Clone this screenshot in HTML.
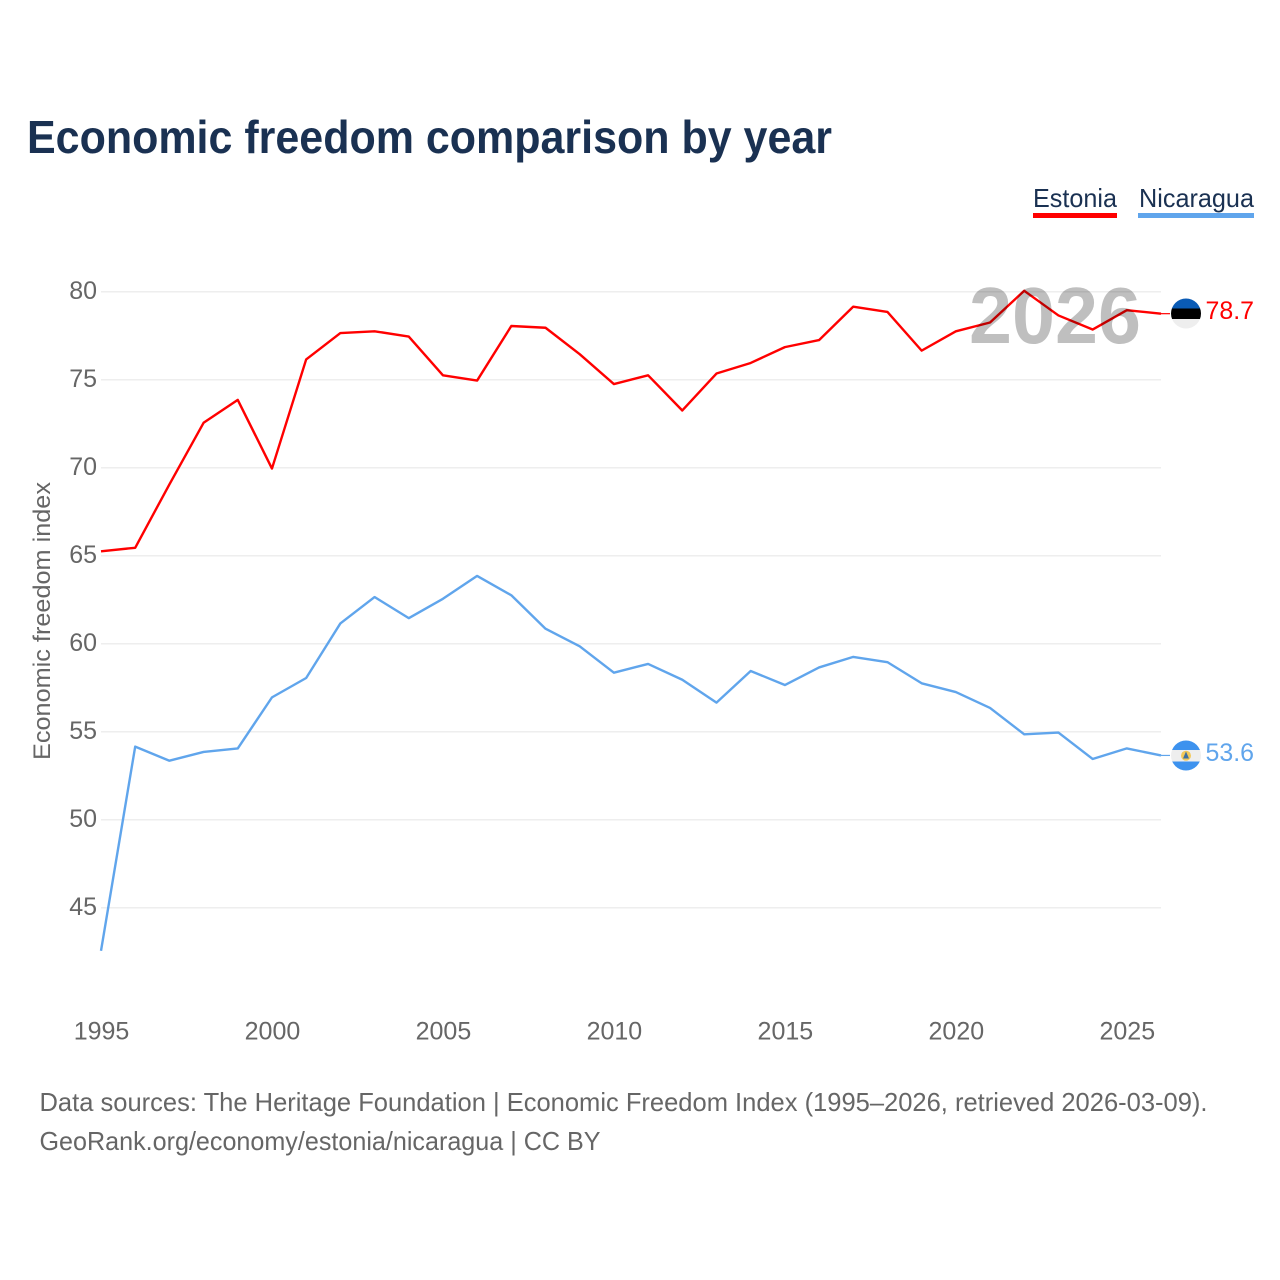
<!DOCTYPE html>
<html lang="en">
<head>
<meta charset="utf-8">
<title>Economic freedom comparison by year</title>
<style>
html,body{margin:0;padding:0;background:#fff}
svg{display:block;font-family:"Liberation Sans",sans-serif}
</style>
</head>
<body>
<svg id="chart" width="1280" height="1280" viewBox="0 0 1280 1280" xmlns="http://www.w3.org/2000/svg">
  <defs>
    <clipPath id="clip-ee"><circle cx="1186" cy="313.5" r="15"/></clipPath>
    <clipPath id="clip-ni"><circle cx="1186" cy="755.5" r="15"/></clipPath>
  </defs>
  <text x="27" y="153" font-size="46" font-weight="700" fill="#1a3152" textLength="805" lengthAdjust="spacingAndGlyphs">Economic freedom comparison by year</text>

  <g>
    <text x="1033" y="207" font-size="26" fill="#1a3152" textLength="84" lengthAdjust="spacingAndGlyphs">Estonia</text>
    <rect x="1033" y="213" width="84" height="5" fill="#ff0000"/>
  </g>
  <g>
    <text x="1139" y="207" font-size="26" fill="#1a3152" textLength="115" lengthAdjust="spacingAndGlyphs">Nicaragua</text>
    <rect x="1138" y="213" width="116" height="5" fill="#60a5ec"/>
  </g>

  <g id="grid"></g>
  <g id="y-ticks"></g>
  <g id="x-ticks"></g>
  <text transform="translate(50,621) rotate(-90)" text-anchor="middle" font-size="24" fill="#666666" textLength="278" lengthAdjust="spacingAndGlyphs">Economic freedom index</text>

  <g id="series"></g>

  <text x="969" y="343" font-size="80" font-weight="700" fill="#000000" fill-opacity="0.25" textLength="172" lengthAdjust="spacingAndGlyphs">2026</text>

  <g id="end-markers"></g>

  <g clip-path="url(#clip-ee)">
    <rect x="1170" y="298" width="32" height="10.5" fill="#0a5bb5"/>
    <rect x="1170" y="308.5" width="32" height="10.5" fill="#000000"/>
    <rect x="1170" y="319" width="32" height="11" fill="#eeeeee"/>
  </g>
  <g clip-path="url(#clip-ni)">
    <rect x="1170" y="740" width="32" height="10" fill="#3d92ee"/>
    <rect x="1170" y="750" width="32" height="11.5" fill="#eeeeee"/>
    <rect x="1170" y="761.5" width="32" height="10.5" fill="#3d92ee"/>
    <circle cx="1186" cy="755.7" r="5" fill="#f3c95a"/>
    <path d="M1186 751.5 L1189 758.5 L1183 758.5 Z" fill="#3f6f9e"/>
  </g>

  <text x="39.5" y="1111" font-size="26" fill="#666666" textLength="1168" lengthAdjust="spacingAndGlyphs">Data sources: The Heritage Foundation | Economic Freedom Index (1995–2026, retrieved 2026-03-09).</text>
  <text x="39.5" y="1150" font-size="26" fill="#666666" textLength="561" lengthAdjust="spacingAndGlyphs">GeoRank.org/economy/estonia/nicaragua | CC BY</text>
</svg>
<script>
const years = [1995,1996,1997,1998,1999,2000,2001,2002,2003,2004,2005,2006,2007,2008,2009,2010,2011,2012,2013,2014,2015,2016,2017,2018,2019,2020,2021,2022,2023,2024,2025,2026];
const estonia = [65.2,65.4,69,72.5,73.8,69.9,76.1,77.6,77.7,77.4,75.2,74.9,78,77.9,76.4,74.7,75.2,73.2,75.3,75.9,76.8,77.2,79.1,78.8,76.6,77.7,78.2,80,78.6,77.8,78.9,78.7];
const nicaragua = [42.5,54.1,53.3,53.8,54,56.9,58,61.1,62.6,61.4,62.5,63.8,62.7,60.8,59.8,58.3,58.8,57.9,56.6,58.4,57.6,58.6,59.2,58.9,57.7,57.2,56.3,54.8,54.9,53.4,54,53.6];
const yTickValues = [45,50,55,60,65,70,75,80];
const xTickValues = [1995,2000,2005,2010,2015,2020,2025];

const NS = 'http://www.w3.org/2000/svg';
function xScale(year){ return 101 + (year - 1995) * (1161 - 101) / (2026 - 1995); }
function yScale(v){ return 291.5 + (80 - v) * (907.5 - 291.5) / (80 - 45); }
function make(tag, attrs, parent){
  const el = document.createElementNS(NS, tag);
  for (const k in attrs) el.setAttribute(k, attrs[k]);
  parent.appendChild(el);
  return el;
}
const grid = document.getElementById('grid');
const yTicks = document.getElementById('y-ticks');
const xTicks = document.getElementById('x-ticks');
const series = document.getElementById('series');
const markers = document.getElementById('end-markers');
const lineLift = 0.7;

yTickValues.forEach(function(v){
  const line = make('line', {x1:101, x2:1161, y1:yScale(v)+0.2, y2:yScale(v)+0.2, stroke:'#eeeeee', 'stroke-width':1.5}, grid);
  
  
  const t = make('text', {x:97, y:yScale(v)+7.5, 'text-anchor':'end', 'font-size':25, fill:'#666666'}, yTicks);
  t.textContent = String(v);
  
  
});
xTickValues.forEach(function(y){
  const t = make('text', {x:xScale(y)+0.5, y:1039.5, 'text-anchor':'middle', 'font-size':25, fill:'#666666'}, xTicks);
  t.textContent = String(y);
  
  
});
function drawSeries(values, color, name){
  const pts = values.map(function(v,i){ return xScale(years[i]).toFixed(2)+','+(yScale(v)-lineLift).toFixed(2); }).join(' ');
  const line = make('polyline', {points:pts, fill:'none', stroke:color, 'stroke-width':2.4, 'stroke-linejoin':'round'}, series);
  
  
  const lastV = values[values.length-1];
  const lastY = yScale(lastV) - lineLift;
  const stub = make('line', {x1:1161, x2:1170, y1:lastY, y2:lastY, stroke:color, 'stroke-width':1.2}, markers);
  
  
  const label = make('text', {x:1205.5, y:lastY+5.5, 'font-size':25, fill:color, textLength:48.5, lengthAdjust:'spacingAndGlyphs'}, markers);
  label.textContent = lastV.toFixed(1);
  
  
}
drawSeries(estonia, '#ff0000', 'line-estonia');
drawSeries(nicaragua, '#60a5ec', 'line-nicaragua');
</script>
</body>
</html>
